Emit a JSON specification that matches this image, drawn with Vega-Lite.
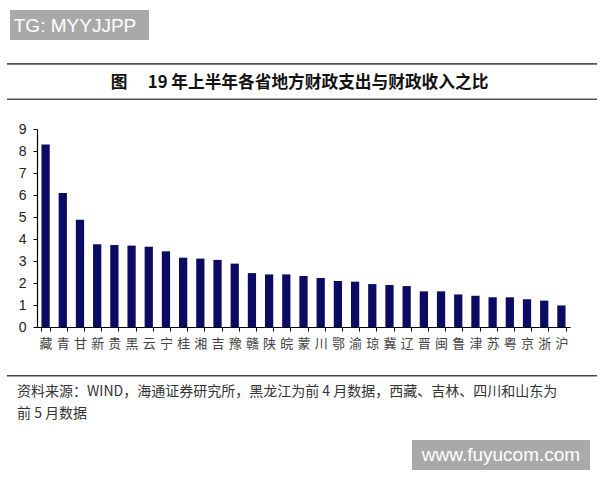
{
  "$schema": "https://vega.github.io/schema/vega-lite/v6.json",
  "width": 533,
  "height": 198,
  "autosize": {"type": "none"},
  "padding": {"left": 37, "top": 129, "right": 30, "bottom": 153},
  "background": "white",
  "config": {"view": {"stroke": null}},
  "resolve": {"scale": {"x": "independent", "y": "independent"}, "axis": {"x": "independent", "y": "independent"}},
  "layer": [
    {
      "data": {"values": [
        {"省": "藏", "比值": 8.30},
        {"省": "青", "比值": 6.09},
        {"省": "甘", "比值": 4.88},
        {"省": "新", "比值": 3.76},
        {"省": "贵", "比值": 3.73},
        {"省": "黑", "比值": 3.70},
        {"省": "云", "比值": 3.65},
        {"省": "宁", "比值": 3.44},
        {"省": "桂", "比值": 3.15},
        {"省": "湘", "比值": 3.11},
        {"省": "吉", "比值": 3.05},
        {"省": "豫", "比值": 2.88},
        {"省": "赣", "比值": 2.45},
        {"省": "陕", "比值": 2.39},
        {"省": "皖", "比值": 2.39},
        {"省": "蒙", "比值": 2.32},
        {"省": "川", "比值": 2.23},
        {"省": "鄂", "比值": 2.09},
        {"省": "渝", "比值": 2.06},
        {"省": "琼", "比值": 1.95},
        {"省": "冀", "比值": 1.91},
        {"省": "辽", "比值": 1.86},
        {"省": "晋", "比值": 1.62},
        {"省": "闽", "比值": 1.62},
        {"省": "鲁", "比值": 1.48},
        {"省": "津", "比值": 1.42},
        {"省": "苏", "比值": 1.35},
        {"省": "粤", "比值": 1.35},
        {"省": "京", "比值": 1.26},
        {"省": "浙", "比值": 1.20},
        {"省": "沪", "比值": 0.98}
      ]},
      "mark": {"type": "bar", "color": "#0b0b63"},
      "encoding": {
        "x": {
          "field": "省", "type": "nominal", "sort": null,
          "scale": {"paddingInner": 0.52, "paddingOuter": 0.26},
          "axis": {
            "title": null, "labelAngle": 0, "tickBand": "extent",
            "domainColor": "#000", "domainWidth": 1.2, "tickColor": "#000", "tickSize": 4,
            "labelFont": "Noto Sans CJK SC", "labelFontSize": 13, "labelColor": "#444", "labelPadding": 6
          }
        },
        "y": {
          "field": "比值", "type": "quantitative",
          "scale": {"domain": [0, 9], "nice": false},
          "axis": {
            "title": null, "values": [0, 1, 2, 3, 4, 5, 6, 7, 8, 9], "grid": false,
            "domainColor": "#000", "domainWidth": 1.2, "tickColor": "#000", "tickSize": 4,
            "labelFont": "Liberation Sans", "labelFontSize": 14, "labelColor": "#222", "labelPadding": 7
          }
        }
      }
    },
    {
      "data": {"values": [{}]},
      "mark": {"type": "rule", "color": "#555", "strokeWidth": 1.6},
      "encoding": {
        "x": {"datum": -0.0563, "type": "quantitative", "scale": {"domain": [0, 1], "nice": false, "zero": false}, "axis": null},
        "x2": {"datum": 1.0507},
        "y": {"datum": 11.96, "type": "quantitative", "scale": {"domain": [0, 9], "nice": false}, "axis": null}
      }
    },
    {
      "data": {"values": [{}]},
      "mark": {"type": "rule", "color": "#555", "strokeWidth": 1.6},
      "encoding": {
        "x": {"datum": -0.0563, "type": "quantitative", "scale": {"domain": [0, 1], "nice": false, "zero": false}, "axis": null},
        "x2": {"datum": 1.0507},
        "y": {"datum": 10.35, "type": "quantitative", "scale": {"domain": [0, 9], "nice": false}, "axis": null}
      }
    },
    {
      "data": {"values": [{}]},
      "mark": {"type": "rule", "color": "#444", "strokeWidth": 1.6},
      "encoding": {
        "x": {"datum": -0.0563, "type": "quantitative", "scale": {"domain": [0, 1], "nice": false, "zero": false}, "axis": null},
        "x2": {"datum": 1.0507},
        "y": {"datum": -2.214, "type": "quantitative", "scale": {"domain": [0, 9], "nice": false}, "axis": null}
      }
    },
    {
      "data": {"values": [{}]},
      "mark": {"type": "text", "text": "图　 19 年上半年各省地方财政支出与财政收入之比", "font": "Noto Sans CJK SC", "fontSize": 16.7, "fontWeight": "bold", "color": "#111", "align": "center", "baseline": "middle"},
      "encoding": {
        "x": {"datum": 0.4925, "type": "quantitative", "scale": {"domain": [0, 1], "nice": false, "zero": false}, "axis": null},
        "y": {"datum": 11.11, "type": "quantitative", "scale": {"domain": [0, 9], "nice": false}, "axis": null}
      }
    },
    {
      "data": {"values": [{}]},
      "mark": {"type": "text", "text": "资料来源：WIND，海通证券研究所，黑龙江为前 4 月数据，西藏、吉林、四川和山东为", "font": "Noto Sans CJK SC", "fontSize": 14, "color": "#333", "align": "left", "baseline": "middle"},
      "encoding": {
        "x": {"datum": -0.0375, "type": "quantitative", "scale": {"domain": [0, 1], "nice": false, "zero": false}, "axis": null},
        "y": {"datum": -2.94, "type": "quantitative", "scale": {"domain": [0, 9], "nice": false}, "axis": null}
      }
    },
    {
      "data": {"values": [{}]},
      "mark": {"type": "text", "text": "前 5 月数据", "font": "Noto Sans CJK SC", "fontSize": 14, "color": "#333", "align": "left", "baseline": "middle"},
      "encoding": {
        "x": {"datum": -0.0375, "type": "quantitative", "scale": {"domain": [0, 1], "nice": false, "zero": false}, "axis": null},
        "y": {"datum": -3.968, "type": "quantitative", "scale": {"domain": [0, 9], "nice": false}, "axis": null}
      }
    },
    {
      "data": {"values": [{}]},
      "mark": {"type": "rect", "color": "#a9a9a9"},
      "encoding": {
        "x": {"datum": -0.0507, "type": "quantitative", "scale": {"domain": [0, 1], "nice": false, "zero": false}, "axis": null},
        "x2": {"datum": 0.2101},
        "y": {"datum": 14.41, "type": "quantitative", "scale": {"domain": [0, 9], "nice": false}, "axis": null},
        "y2": {"datum": 13.045}
      }
    },
    {
      "data": {"values": [{}]},
      "mark": {"type": "text", "text": "TG: MYYJJPP", "font": "Liberation Sans", "fontSize": 19, "color": "white", "align": "center", "baseline": "middle"},
      "encoding": {
        "x": {"datum": 0.0713, "type": "quantitative", "scale": {"domain": [0, 1], "nice": false, "zero": false}, "axis": null},
        "y": {"datum": 13.70, "type": "quantitative", "scale": {"domain": [0, 9], "nice": false}, "axis": null}
      }
    },
    {
      "data": {"values": [{}]},
      "mark": {"type": "rect", "color": "#a9a9a9"},
      "encoding": {
        "x": {"datum": 0.7036, "type": "quantitative", "scale": {"domain": [0, 1], "nice": false, "zero": false}, "axis": null},
        "x2": {"datum": 1.0375},
        "y": {"datum": -5.136, "type": "quantitative", "scale": {"domain": [0, 9], "nice": false}, "axis": null},
        "y2": {"datum": -6.5}
      }
    },
    {
      "data": {"values": [{}]},
      "mark": {"type": "text", "text": "www.fuyucom.com", "font": "Liberation Sans", "fontSize": 19, "color": "white", "align": "center", "baseline": "middle"},
      "encoding": {
        "x": {"datum": 0.8705, "type": "quantitative", "scale": {"domain": [0, 1], "nice": false, "zero": false}, "axis": null},
        "y": {"datum": -5.84, "type": "quantitative", "scale": {"domain": [0, 9], "nice": false}, "axis": null}
      }
    }
  ]
}
